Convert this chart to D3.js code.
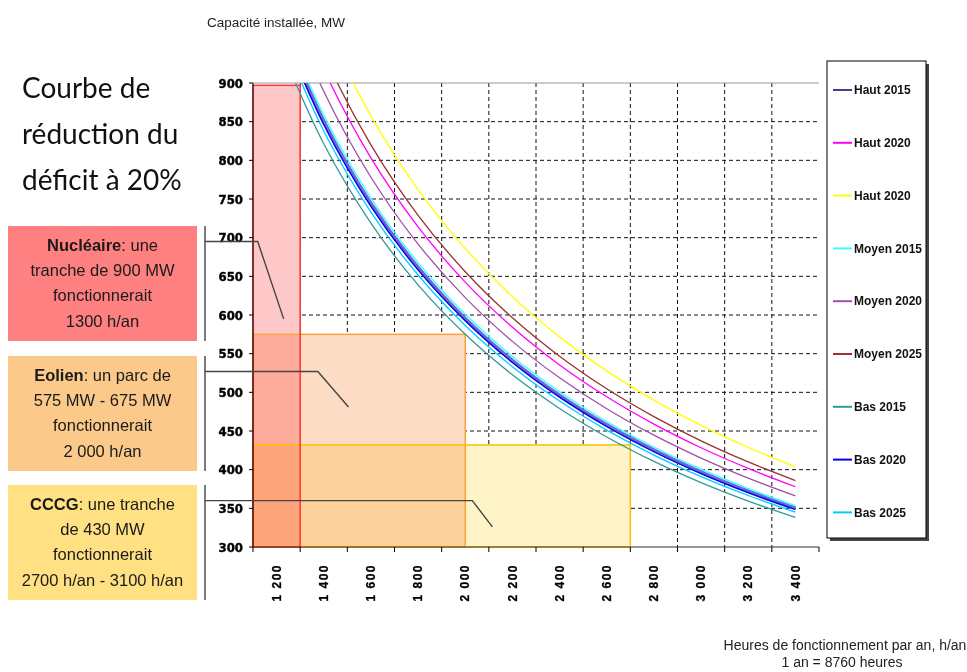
<!DOCTYPE html>
<html><head><meta charset="utf-8">
<script src="https://cdn.jsdelivr.net/npm/d3@7"></script>
<style>
body{margin:0;background:#fff;}
svg{display:block;}
</style></head>
<body>
<svg id="chart" width="967" height="672"></svg>
<script>
// ---------- data ----------
const hours = [1200, 1400, 1600, 1800, 2000, 2200, 2400, 2600, 2800, 3000, 3200, 3400];
const xTickLabels = ["1 200","1 400","1 600","1 800","2 000","2 200","2 400","2 600","2 800","3 000","3 200","3 400"];
const yTicks = [300, 350, 400, 450, 500, 550, 600, 650, 700, 750, 800, 850, 900];

const haut2015   = [991.7, 850.0, 743.8, 661.1, 595.0, 540.9, 495.8, 457.7, 425.0, 396.7, 371.9, 350.0];
const haut2020   = [1070.8, 917.9, 803.1, 713.9, 642.5, 584.1, 535.4, 494.2, 458.9, 428.3, 401.6, 377.9];
const haut2020b  = [1143.3, 980.0, 857.5, 762.2, 686.0, 623.6, 571.7, 527.7, 490.0, 457.3, 428.8, 403.5];
const moyen2015  = [1001.7, 858.6, 751.3, 667.8, 601.0, 546.4, 500.8, 462.3, 429.3, 400.7, 375.6, 353.5];
const moyen2020  = [1037.5, 889.3, 778.1, 691.7, 622.5, 565.9, 518.8, 478.8, 444.6, 415.0, 389.1, 366.2];
const moyen2025  = [1093.3, 937.1, 820.0, 728.9, 656.0, 596.4, 546.7, 504.6, 468.6, 437.3, 410.0, 385.9];
const bas2015    = [958.3, 821.4, 718.8, 638.9, 575.0, 522.7, 479.2, 442.3, 410.7, 383.3, 359.4, 338.2];
const bas2020    = [987.5, 846.4, 740.6, 658.3, 592.5, 538.6, 493.8, 455.8, 423.2, 395.0, 370.3, 348.5];
const bas2025    = [977.5, 837.9, 733.1, 651.7, 586.5, 533.2, 488.8, 451.2, 418.9, 391.0, 366.6, 345.0];

const seriesNames = ["Haut 2015","Haut 2020","Haut 2020","Moyen 2015","Moyen 2020","Moyen 2025","Bas 2015","Bas 2020","Bas 2025"];
const seriesValues = [haut2015, haut2020, haut2020b, moyen2015, moyen2020, moyen2025, bas2015, bas2020, bas2025];

// technology zones: operating hours (right edge) and capacity (top edge)
const zoneNames = ["Nucléaire", "Eolien", "CCCG"];
const zoneHours = [1300, 2000, 2700];
const zoneCapacity = [897, 575, 432];
// connector annotation: level (MW), elbow (h), end point (h, MW)
const connLevel = [695, 527, 360];
const connElbow = [1120, 1375, 2030];
const connEndHours = [1230, 1505, 2115];
const connEndMW = [595, 481, 326];

// ---------- styles ----------
const colors = ["#6a6ad2","#ff00ff","#ffff00","#33ffff","#a050a8","#993333","#339999","#0000ff","#00ccff"];
const legendColors = ["#404090","#ff00ff","#ffff00","#33ffff","#a050a8","#993333","#339999","#0000ff","#00ccff"];
const widths = [4,1.3,1.3,1.3,1.3,1.3,1.3,1.3,1.3];
const zoneFill = ["#ffc8c8","#fddcc6","#fff3c8"];
const zoneStroke = ["#ff3333","#ffa040","#ffc000"];
const panelFill = ["#ff8080","#fbc98a","#ffe082"];
const sansFont = "'Liberation Sans',Arial,sans-serif";

const svg = d3.select("#chart");
const x = d3.scaleLinear().domain([1100, 3500]).range([253, 819]);
const y = d3.scaleLinear().domain([300, 900]).range([547, 83]);

// grid
const grid = svg.append("g");
grid.selectAll("line.h").data(yTicks.filter(v => v > 300 && v < 900)).join("line")
  .attr("x1", x(1100)).attr("x2", x(3500))
  .attr("y1", d => y(d)).attr("y2", d => y(d))
  .attr("stroke", "#111").attr("stroke-dasharray", "4,3");
const bounds = d3.range(1300, 3400, 200);
grid.selectAll("line.v").data(bounds).join("line")
  .attr("x1", d => x(d)).attr("x2", d => x(d))
  .attr("y1", y(900)).attr("y2", y(300))
  .attr("stroke", "#111").attr("stroke-dasharray", "4,3");
grid.append("line").attr("x1", x(1100)).attr("x2", x(3500)).attr("y1", y(900)).attr("y2", y(900))
  .attr("stroke", "#999").attr("stroke-width", 1.2);

// zones (multiply blending)
const zg = svg.append("g").style("isolation", "isolate");
[1, 2, 0].forEach(i => {
  zg.append("rect")
    .attr("x", x(1100)).attr("y", y(zoneCapacity[i]))
    .attr("width", x(zoneHours[i]) - x(1100)).attr("height", y(300) - y(zoneCapacity[i]))
    .attr("fill", zoneFill[i]).style("mix-blend-mode", "multiply");
});
[1, 2, 0].forEach(i => {
  zg.append("rect")
    .attr("x", x(1100)).attr("y", y(zoneCapacity[i]))
    .attr("width", x(zoneHours[i]) - x(1100)).attr("height", y(300) - y(zoneCapacity[i]))
    .attr("fill", "none").attr("stroke", zoneStroke[i]).attr("stroke-width", 1.5);
});

// curves
svg.append("clipPath").attr("id", "clip").append("rect")
  .attr("x", x(1100)).attr("y", y(900)).attr("width", x(3500) - x(1100)).attr("height", y(300) - y(900));
const line = d3.line().curve(d3.curveCatmullRom.alpha(0.5)).x((d, i) => x(hours[i])).y(d => y(d));
svg.append("g").attr("clip-path", "url(#clip)")
  .selectAll("path").data(seriesValues).join("path")
  .attr("d", d => line(d)).attr("fill", "none")
  .attr("stroke", (d, i) => colors[i]).attr("stroke-width", (d, i) => widths[i]);

// axes
const yAxis = svg.append("g");
yAxis.append("line").attr("x1", x(1100)).attr("x2", x(1100)).attr("y1", y(900)).attr("y2", y(300)).attr("stroke", "#000");
yAxis.selectAll("line.t").data(yTicks).join("line")
  .attr("x1", x(1100) - 4).attr("x2", x(1100)).attr("y1", d => y(d)).attr("y2", d => y(d)).attr("stroke", "#000");
yAxis.selectAll("text").data(yTicks).join("text")
  .attr("x", 243).attr("y", d => y(d)).attr("dy", "0.35em").attr("text-anchor", "end")
  .style("font-family", "'Liberation Sans Narrow','DejaVu Sans Condensed',sans-serif")
  .style("font-weight", "900").style("font-size", "13px").style("stroke", "#000").style("stroke-width", "0.4px")
  .text(d => d);

const xAxis = svg.append("g");
xAxis.append("line").attr("x1", x(1100)).attr("x2", x(3500)).attr("y1", y(300)).attr("y2", y(300)).attr("stroke", "#333").attr("stroke-width", 1.2);
xAxis.selectAll("line.t").data(d3.range(1100, 3600, 200)).join("line")
  .attr("x1", d => x(d)).attr("x2", d => x(d)).attr("y1", y(300)).attr("y2", y(300) + 5).attr("stroke", "#000");
xAxis.selectAll("text").data(hours).join("text")
  .attr("transform", d => `translate(${x(d)},564) rotate(-90)`)
  .attr("dy", "0.35em").attr("text-anchor", "end")
  .style("font-family", sansFont).style("font-weight", "bold")
  .style("font-size", "12px").style("letter-spacing", "1.5px").style("stroke", "#000").style("stroke-width", "0.3px")
  .text((d, i) => xTickLabels[i]);

// titles
svg.append("text").attr("x", 207).attr("y", 27)
  .style("font-family", sansFont).style("font-size", "13.5px").style("fill", "#222")
  .text("Capacité installée, MW");
svg.append("text").attr("x", 845).attr("y", 650).attr("text-anchor", "middle")
  .style("font-family", sansFont).style("font-size", "14px").style("fill", "#222")
  .text("Heures de fonctionnement par an, h/an");
svg.append("text").attr("x", 842).attr("y", 667).attr("text-anchor", "middle")
  .style("font-family", sansFont).style("font-size", "14px").style("fill", "#222")
  .text("1 an = 8760 heures");

const titleLines = ["Courbe de", "réduction du", "déficit à 20%"];
svg.append("g").selectAll("text").data(titleLines).join("text")
  .attr("x", 22).attr("y", (d, i) => 98 + i * 46)
  .style("font-family", "Lato,'Open Sans',sans-serif").style("font-size", "28px").style("fill", "#111")
  .text(d => d);

// left panels
const panelTop = [226, 356, 485];
const panelText = [
  ["une", "tranche de 900 MW", "fonctionnerait", "1300 h/an"],
  ["un parc de", "575 MW - 675 MW", "fonctionnerait", "2 000 h/an"],
  ["une tranche", "de 430 MW", "fonctionnerait", "2700 h/an - 3100 h/an"]
];
const pg = svg.append("g");
zoneNames.forEach((name, k) => {
  pg.append("rect").attr("x", 8).attr("y", panelTop[k]).attr("width", 189).attr("height", 115).attr("fill", panelFill[k]);
  const lines = panelText[k];
  lines.forEach((ln, j) => {
    const t = pg.append("text").attr("x", 102.5).attr("y", panelTop[k] + 19 + j * 25.3).attr("dy", "0.35em")
      .attr("text-anchor", "middle")
      .style("font-family", sansFont).style("font-size", "16.5px").style("fill", "#1a1a1a");
    if (j === 0) {
      t.append("tspan").style("font-weight", "bold").text(name);
      t.append("tspan").text(": " + ln);
    } else t.text(ln);
  });
  // connector
  const p = d3.path();
  p.moveTo(205, panelTop[k]); p.lineTo(205, panelTop[k] + 115);
  p.moveTo(205, y(connLevel[k])); p.lineTo(x(connElbow[k]), y(connLevel[k]));
  p.lineTo(x(connEndHours[k]), y(connEndMW[k]));
  pg.append("path").attr("d", p.toString()).attr("fill", "none").attr("stroke", "#444").attr("stroke-width", 1.4);
});

// legend
const lg = svg.append("g");
lg.append("rect").attr("x", 830).attr("y", 64).attr("width", 99).attr("height", 477).attr("fill", "#444");
lg.append("rect").attr("x", 827).attr("y", 61).attr("width", 99).attr("height", 477).attr("fill", "#fff").attr("stroke", "#000");
seriesNames.forEach((n, i) => {
  const yy = 90 + i * 52.8;
  lg.append("line").attr("x1", 833).attr("x2", 852).attr("y1", yy).attr("y2", yy)
    .attr("stroke", legendColors[i]).attr("stroke-width", 2);
  lg.append("text").attr("x", 854).attr("y", yy).attr("dy", "0.35em")
    .style("font-family", sansFont).style("font-weight", "bold").style("font-size", "12px")
    .style("fill", "#111").text(n);
});
</script>
</body></html>
